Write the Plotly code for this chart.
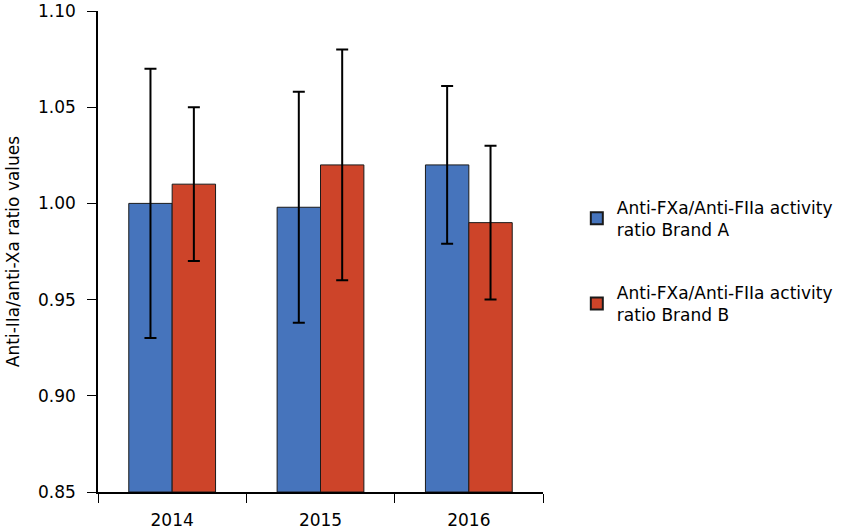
import plotly.graph_objects as go

years = ["2014", "2015", "2016"]
brand_a = [1.000, 0.998, 1.020]
brand_a_hi = [1.070, 1.058, 1.061]
brand_a_lo = [0.930, 0.938, 0.979]
brand_b = [1.010, 1.020, 0.990]
brand_b_hi = [1.050, 1.080, 1.030]
brand_b_lo = [0.970, 0.960, 0.950]
names = ["Anti-FXa/Anti-FIIa activity<br>ratio Brand A",
         "Anti-FXa/Anti-FIIa activity<br>ratio Brand B"]
colors = ["#4674BC", "#CD4429"]
y_ticks = [0.85, 0.90, 0.95, 1.00, 1.05, 1.10]

fig = go.Figure()
for name, vals, hi, lo, col in [(names[0], brand_a, brand_a_hi, brand_a_lo, colors[0]),
                                (names[1], brand_b, brand_b_hi, brand_b_lo, colors[1])]:
    fig.add_trace(go.Bar(
        x=years, y=[v - 0.85 for v in vals], base=0.85, name=name, legendgroup=name,
        marker=dict(color=col, line=dict(color="#1a1a1a", width=1)),
        error_y=dict(type="data", symmetric=False,
                     array=[h - v for h, v in zip(hi, vals)],
                     arrayminus=[v - l for v, l in zip(vals, lo)],
                     color="black", thickness=2, width=6),
    ))

fig.update_layout(
    width=850, height=531,
    margin=dict(l=98, r=307, t=11, b=39),
    plot_bgcolor="white", paper_bgcolor="white",
    barmode="group", bargap=0.415, bargroupgap=0,
    font=dict(family="DejaVu Sans", size=17, color="black"),
    showlegend=True,
    legend=dict(x=1.076, y=0.48, xanchor="left", yanchor="middle",
                font=dict(size=17), traceorder="grouped", tracegroupgap=38,
                itemsizing="constant"),
)
fig.update_yaxes(
    range=[0.85, 1.10], tickvals=y_ticks, ticktext=[f"{v:.2f}" for v in y_ticks],
    showline=True, linecolor="black", linewidth=1.5, automargin=False,
    ticks="outside", ticklen=9, tickcolor="black", showgrid=False, zeroline=False,
    ticklabelstandoff=8, ticklabeloverflow="allow",
    title=dict(text="Anti-IIa/anti-Xa ratio values", font=dict(size=17), standoff=14),
)
fig.update_xaxes(
    showline=True, linecolor="black", linewidth=1.5, automargin=False,
    ticks="outside", tickson="boundaries", ticklen=9, tickcolor="black",
    showgrid=False, ticklabelstandoff=12,
)

# page body has an 8px default margin; drop it so the figure sits at 0,0
fig.write_html("out.html", config={"displayModeBar": False},
               post_script="document.body.style.margin='0';")
